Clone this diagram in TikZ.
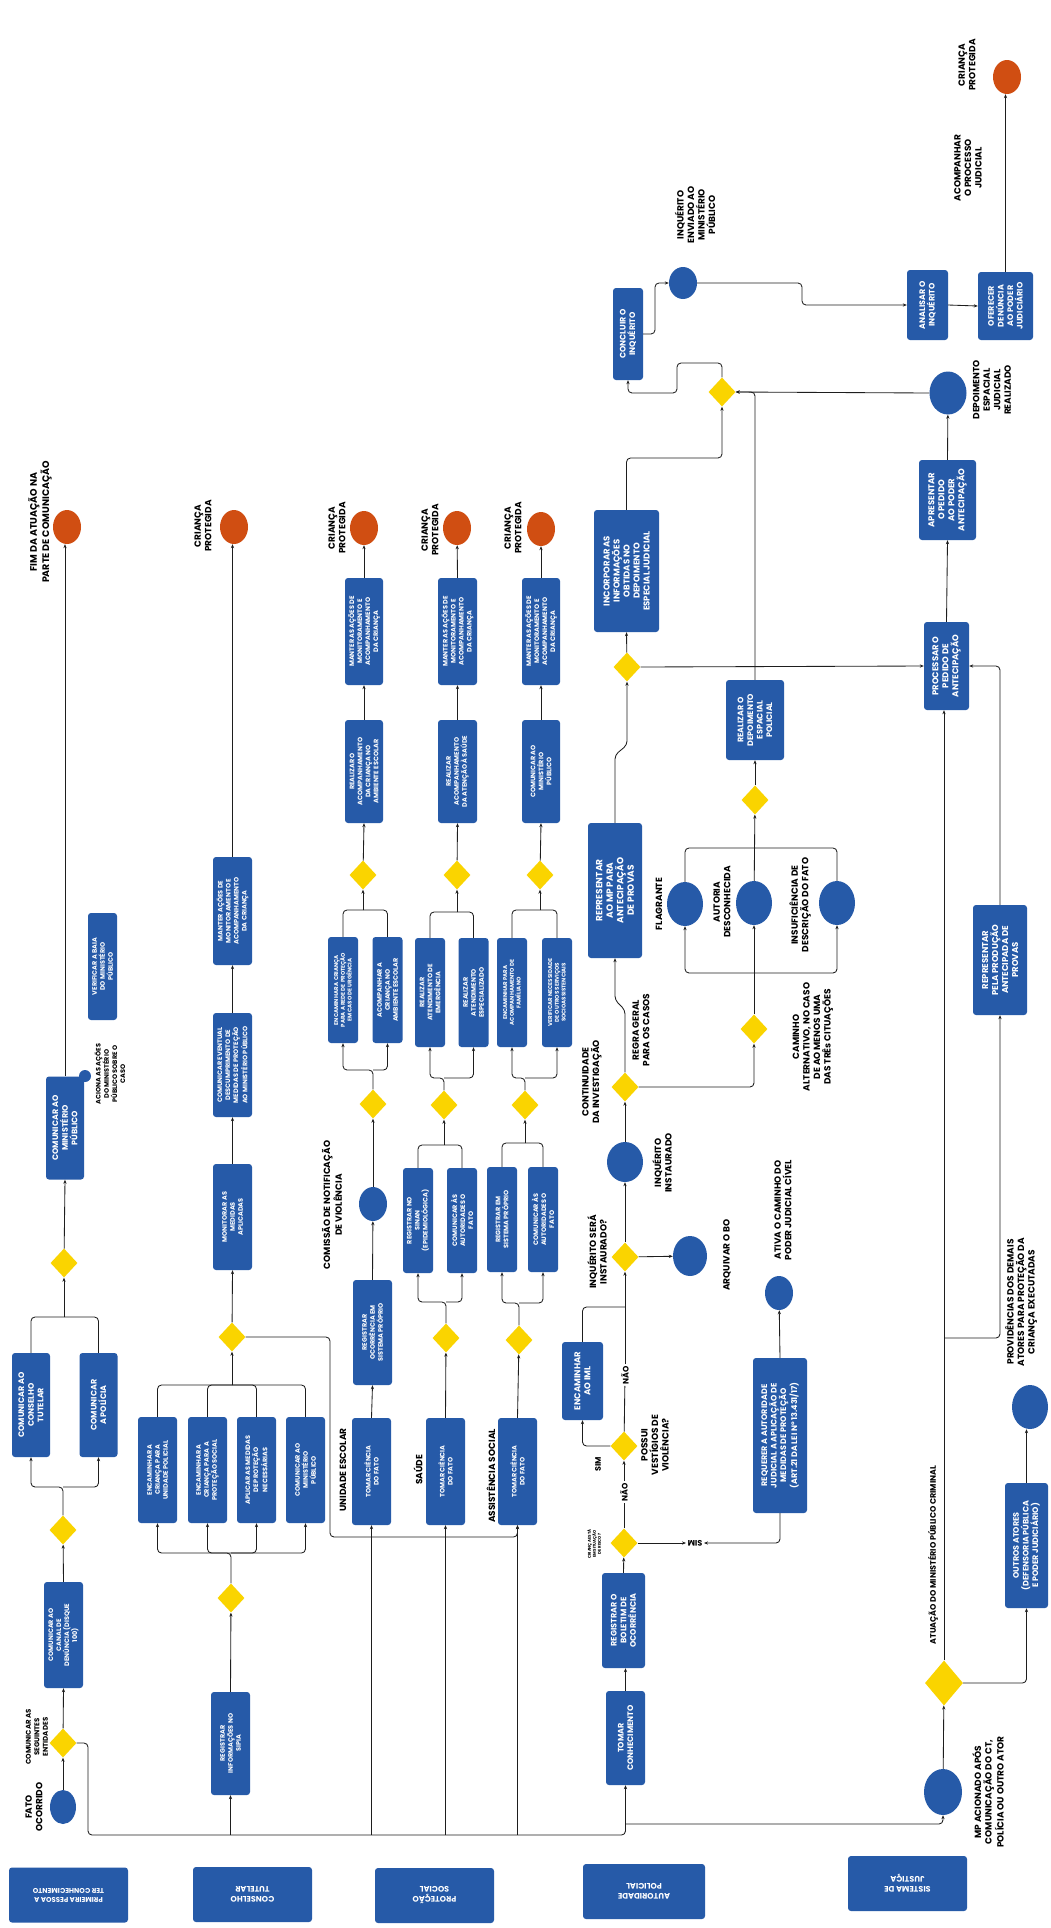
\documentclass[tikz,border=0pt]{standalone}
\usepackage{fontspec}
\setmainfont{Poppins}
\usetikzlibrary{shapes.geometric,arrows.meta}
\definecolor{cblue}{RGB}{38,90,168}
\definecolor{corange}{RGB}{208,78,18}
\definecolor{cyellow}{RGB}{250,212,0}
\definecolor{cline}{RGB}{30,30,30}
\begin{document}
\begin{tikzpicture}[x=1pt,y=-1pt,
  bx/.style={rectangle,rounded corners=3pt,fill=cblue,text=white,align=center,inner sep=1pt,rotate=90,font=\bfseries\fontsize{8}{9.6}\selectfont},
  bxs/.style={bx,font=\bfseries\fontsize{6.5}{8}\selectfont},
  bxt/.style={bx,font=\bfseries\fontsize{5.5}{6.8}\selectfont},
  dm/.style={diamond,fill=cyellow,inner sep=0pt,minimum width=27,minimum height=29},
  ev/.style={ellipse,fill=cblue,inner sep=0pt},
  en/.style={ellipse,fill=corange,inner sep=0pt,minimum width=28,minimum height=34},
  lb/.style={align=center,rotate=90,inner sep=0pt,font=\bfseries\fontsize{9}{10.5}\selectfont},
  lane/.style={rectangle,rounded corners=3pt,fill=cblue,text=white,align=center,rotate=180,minimum width=119,minimum height=55,font=\bfseries\fontsize{8}{10}\selectfont},
  ln/.style={draw=cline,line width=0.85pt,rounded corners=4pt},
  ar/.style={ln,-{Stealth[length=4pt,width=3.2pt]}},
]
\fill[white] (0,0) rectangle (1051,1928);
\useasboundingbox (0,0) rectangle (1051,1928);

% ---------- lane headers ----------
\node[lane,font=\bfseries\fontsize{7}{9}\selectfont] (h1) at (68.5,1895) {PRIMEIRA PESSOA A\\TER CONHECIMENTO};
\node[lane] (h2) at (252.5,1894.5) {CONSELHO\\TUTELAR};
\node[lane] (h3) at (434.5,1895.5) {PROTEÇÃO\\SOCIAL};
\node[lane,minimum width=122] (h4) at (644,1891.5) {AUTORIDADE\\POLICIAL};
\node[lane] (h5) at (907.5,1883.5) {SISTEMA DE\\JUSTIÇA};

% ---------- first person ----------
\node[ev,minimum width=26,minimum height=34] (fato) at (63,1807) {};
\node[lb] at (34,1807) {FATO\\OCORRIDO};
\node[dm] (d1) at (63,1743) {};
\node[lb,font=\bfseries\fontsize{7}{8.5}\selectfont] at (37,1737) {COMUNICAR AS\\SEGUINTES\\ENTIDADES};
\node[bxs,minimum width=106,minimum height=39] (canal) at (63.5,1635) {COMUNICAR AO\\CANAL DE\\DENÚNCIA (DISQUE\\100)};
\node[dm] (d2) at (63,1530) {};
\node[bx,minimum width=104,minimum height=38] (ct) at (31,1405) {COMUNICAR AO\\CONSELHO\\TUTELAR};
\node[bx,minimum width=104,minimum height=38] (pol) at (98.5,1405) {COMUNICAR\\A POLÍCIA};
\node[dm] (d3) at (64,1263) {};
\node[bx,minimum width=103,minimum height=38] (mp1) at (65,1128) {COMUNICAR AO\\MINISTÉRIO\\PÚBLICO};
\node[circle,fill=cblue,minimum size=12,inner sep=0pt] (dot) at (85,1076) {};
\node[lb,font=\bfseries\fontsize{6.5}{8.2}\selectfont] at (110,1074) {ACIONA AS AÇÕES\\DO MINISTÉRIO\\PÚBLICO SOBRE O\\CASO};
\node[bxs,minimum width=107,minimum height=29] (verif) at (102.5,966.5) {VERIFICAR A BAIA\\DO MINISTÉRIO\\PÚBLICO};
\node[en] (end1) at (67,527) {};
\node[lb,font=\bfseries\fontsize{9.5}{11}\selectfont] at (40,522) {FIM DA ATUAÇÃO NA\\PARTE DE COMUNICAÇÃO};

% ---------- conselho tutelar ----------
\node[bxs,minimum width=103,minimum height=39] (sipia) at (230.5,1743.5) {REGISTRAR\\INFORMAÇÕES NO\\SIPIA};
\node[dm] (d4) at (231,1598) {};
\node[bxs,minimum width=106,minimum height=39] (c1) at (157.5,1470) {ENCAMINHAR A\\CRIANÇA PARA\\UNIDADE POLICIAL};
\node[bxs,minimum width=106,minimum height=39] (c2) at (207.5,1470) {ENCAMINHAR A\\CRIANÇA PARA A\\PROTEÇÃO SOCIAL};
\node[bxs,minimum width=106,minimum height=39] (c3) at (256.5,1470) {APLICAR AS MEDIDAS\\DE PROTEÇÃO\\NECESSÁRIAS};
\node[bxs,minimum width=106,minimum height=39] (c4) at (305.5,1470) {COMUNICAR AO\\MINISTÉRIO\\PÚBLICO};
\node[dm] (d5) at (232,1337) {};
\node[bxs,minimum width=106,minimum height=39] (mon) at (232.5,1217) {MONITORAR AS\\MEDIDAS\\APLICADAS};
\node[bxs,minimum width=104,minimum height=39] (desc) at (232.5,1065) {COMUNICAR EVENTUAL\\DESCUMPRIMENTO DE\\MEDIDAS DE PROTEÇÃO\\AO MINISTÉRIO PÚBLICO};
\node[bxs,minimum width=108,minimum height=39] (man2) at (232.5,911) {MANTER AÇÕES DE\\MONITORAMENTO E\\ACOMPANHAMENTO\\DA CRIANÇA};
\node[en] (end2) at (234,527) {};
\node[lb] at (203,526) {CRIANÇA\\PROTEGIDA};

% ---------- proteção social ----------
\node[lb] at (343,1470) {UNIDADE ESCOLAR};
\node[lb] at (418,1470) {SAÚDE};
\node[lb] at (491,1476) {ASSISTÊNCIA SOCIAL};
\node[bxs,minimum width=107,minimum height=39] (tc1) at (371.5,1471.5) {TOMAR CIÊNCIA\\DO FATO};
\node[bxs,minimum width=107,minimum height=39] (tc2) at (445.5,1471.5) {TOMAR CIÊNCIA\\DO FATO};
\node[bxs,minimum width=107,minimum height=39] (tc3) at (517.5,1471.5) {TOMAR CIÊNCIA\\DO FATO};
% unidade escolar
\node[bxs,minimum width=105,minimum height=39] (reg) at (372.5,1332.5) {REGISTRAR\\OCORRÊNCIA EM\\SISTEMA PRÓPRIO};
\node[ev,minimum width=28,minimum height=34] (com) at (373,1204) {};
\node[lb] at (332,1205) {COMISSÃO DE NOTIFICAÇÃO\\DE VIOLÊNCIA};
\node[dm] (d6) at (373,1104) {};
\node[bxt,minimum width=106,minimum height=30] (e1) at (343,990) {ENCAMINHAR A CRIANÇA\\PARA A REDE DE PROTEÇÃO\\EM CASO DE URGÊNCIA};
\node[bxs,minimum width=106,minimum height=30] (e2) at (387.5,990) {ACOMPANHAR A\\CRIANÇA NO\\AMBIENTE ESCOLAR};
\node[dm] (d7) at (363,875) {};
\node[bxs,minimum width=103,minimum height=38] (r1) at (364,771.5) {REALIZAR O\\ACOMPANHAMENTO\\DA CRIANÇA NO\\AMBIENTE ESCOLAR};
\node[bxs,minimum width=107,minimum height=38] (m1) at (364,631.5) {MANTER AS AÇÕES DE\\MONITORAMENTO E\\ACOMPANHAMENTO\\DA CRIANÇA};
\node[en] (end3) at (364,528) {};
\node[lb] at (337,528) {CRIANÇA\\PROTEGIDA};
% saúde
\node[dm] (d8) at (446,1338) {};
\node[bxs,minimum width=105,minimum height=30] (s1) at (418,1220.5) {REGISTRAR NO\\SINAN\\(EPIDEMIOLÓGICA)};
\node[bxs,minimum width=105,minimum height=30] (s2) at (462,1220.5) {COMUNICAR ÀS\\AUTORIDADES O\\FATO};
\node[dm] (d9) at (444,1105) {};
\node[bxs,minimum width=109,minimum height=30] (s3) at (430,992.5) {REALIZAR\\ATENDIMENTO DE\\EMERGÊNCIA};
\node[bxs,minimum width=109,minimum height=30] (s4) at (473.5,992.5) {REALIZAR\\ATENDIMENTO\\ESPECIALIZADO};
\node[dm] (d10) at (457,875) {};
\node[bxs,minimum width=103,minimum height=39] (s5) at (457.5,771.5) {REALIZAR\\ACOMPANHAMENTO\\DA ATENÇÃO À SAÚDE};
\node[bxs,minimum width=107,minimum height=39] (s6) at (457.5,631.5) {MANTER AS AÇÕES DE\\MONITORAMENTO E\\ACOMPANHAMENTO\\DA CRIANÇA};
\node[en] (end4) at (457,528) {};
\node[lb] at (430,530) {CRIANÇA\\PROTEGIDA};
% assistência social
\node[dm] (d11) at (519,1340) {};
\node[bxs,minimum width=105,minimum height=30] (a1) at (502,1219.5) {REGISTRAR EM\\SISTEMA PRÓPRIO};
\node[bxs,minimum width=105,minimum height=30] (a2) at (543,1219.5) {COMUNICAR ÀS\\AUTORIDADES O\\FATO};
\node[dm] (d12) at (525,1105) {};
\node[bxt,minimum width=109,minimum height=30] (a3) at (512,992.5) {ENCAMINHAR PARA\\ACOMPANHAMENTO DE\\FAMÍLIA NO};
\node[bxt,minimum width=109,minimum height=30] (a4) at (557,992.5) {VERIFICAR NECESSIDADE\\DE OUTROS SERVIÇOS\\SOCIOASSISTENCIAIS};
\node[dm] (d13) at (540,875) {};
\node[bxs,minimum width=103,minimum height=38] (a5) at (541,771.5) {COMUNICAR AO\\MINISTÉRIO\\PÚBLICO};
\node[bxs,minimum width=107,minimum height=38] (a6) at (541,631.5) {MANTER AS AÇÕES DE\\MONITORAMENTO E\\ACOMPANHAMENTO\\DA CRIANÇA};
\node[en] (end5) at (541,529) {};
\node[lb] at (513,528) {CRIANÇA\\PROTEGIDA};

% ---------- autoridade policial ----------
\node[bx,minimum width=94,minimum height=39] (tcon) at (625.5,1738) {TOMAR\\CONHECIMENTO};
\node[bx,minimum width=95,minimum height=43] (bo) at (623.5,1620.5) {REGISTRAR O\\BOLETIM DE\\OCORRÊNCIA};
\node[dm] (d14) at (624,1543) {};
\node[lb,font=\bfseries\fontsize{4}{5}\selectfont] at (594,1544) {CRIANÇA ESTÁ\\EM SITUAÇÃO\\DE RISCO?};
\node[lb,rotate=90,font=\bfseries\fontsize{8}{9}\selectfont,inner sep=1.5pt] (sim1) at (695,1543) {SIM};
\node[lb,font=\bfseries\fontsize{8}{9}\selectfont,inner sep=1.5pt] (nao1) at (624,1492) {NÃO};
\node[dm] (d15) at (624,1446) {};
\node[lb] at (655,1445) {POSSUI\\VESTÍGIOS DE\\VIOLÊNCIA?};
\node[lb,font=\bfseries\fontsize{8}{9}\selectfont] at (598,1464) {SIM};
\node[bx,font=\bfseries\fontsize{8.5}{10}\selectfont,minimum width=78,minimum height=41] (iml) at (582.5,1381) {ENCAMINHAR\\AO IML};
\node[lb,font=\bfseries\fontsize{8}{9}\selectfont,inner sep=1.5pt] (nao2) at (625,1375) {NÃO};
\node[dm] (d16) at (625,1257) {};
\node[lb] at (597,1252) {INQUÉRITO SERÁ\\INSTAURADO?};
\node[ev,minimum width=34,minimum height=40] (arq) at (690,1256) {};
\node[lb] at (727,1255) {ARQUIVAR O BO};
\node[ev,minimum width=36,minimum height=40] (inst) at (625,1162) {};
\node[lb] at (662,1163) {INQUÉRITO\\INSTAURADO};
\node[lb] at (592,1082) {CONTINUIDADE\\DA INVESTIGAÇÃO};
\node[dm] (d17) at (625,1087) {};
\node[lb] at (641,1030) {REGRA GERAL\\PARA OS CASOS};
\node[bx,font=\bfseries\fontsize{9}{10.5}\selectfont,minimum width=135,minimum height=54] (rep) at (615,890.5) {REPRESENTAR\\AO MP PARA\\ANTECIPAÇÃO\\DE PROVAS};
\node[dm] (d18) at (754,1029) {};
\node[lb] at (813,1037) {CAMINHO\\ALTERNATIVO, NO CASO\\DE AO MENOS UMA\\DAS TRÊs CITUAÇÕES};
\node[ev,minimum width=36,minimum height=44] (fla) at (685,904) {};
\node[lb] at (659,904) {FLAGRANTE};
\node[ev,minimum width=36,minimum height=44] (aut) at (754,903) {};
\node[lb] at (722,902) {AUTORIA\\DESCONHECIDA};
\node[ev,minimum width=36,minimum height=44] (ins) at (837,903) {};
\node[lb] at (800,905) {INSUFICIÊNCIA DE\\DESCRIÇÃO DO FATO};
\node[dm] (d19) at (755,800) {};
\node[bx,minimum width=80,minimum height=58] (dep) at (755,720) {REALIZAR O\\DEPOIMENTO\\ESPACIAL\\POLICIAL};
\node[dm] (d20) at (627,667) {};
\node[bx,font=\bfseries\fontsize{8.5}{10}\selectfont,minimum width=122,minimum height=65] (inc) at (626.5,571) {INCORPORAR AS\\INFORMAÇÕES\\OBTIDAS NO\\DEPOIMENTO\\ESPECIAL JUDICIAL};
\node[dm] (d21) at (722,392) {};
\node[bx,minimum width=92,minimum height=30] (conc) at (628,334) {CONCLUIR O\\INQUÉRITO};
\node[ev,minimum width=28,minimum height=32] (env) at (683,283) {};
\node[lb] at (695,215) {INQUÉRITO\\ENVIADO AO\\MINISTÉRIO\\PÚBLICO};
\node[bx,minimum width=70,minimum height=41] (ana) at (927.5,305) {ANALISAR O\\INQUÉRITO};
\node[bx,minimum width=68,minimum height=55] (ofe) at (1005.5,306) {OFERECER\\DENÚNCIA\\AO PODER\\JUDICIÁRIO};
\node[en] (end6) at (1007,77) {};
\node[lb] at (968,168) {ACOMPANHAR\\O PROCESSO\\JUDICIAL};
\node[lb] at (967,65) {CRIANÇA\\PROTEGIDA};
\node[bx,minimum width=155,minimum height=54] (req) at (780,1435.5) {REQUERER A AUTORIDADE\\JUDICIAL A APLICAÇÃO DE\\MEDIDAS DE PROTEÇÃO\\(ART.21 DA LEI Nº 13.431/17)};
\node[ev,minimum width=28,minimum height=34] (ativ) at (779,1293) {};
\node[lb] at (783,1210) {ATIVA O CAMINHO DO\\PODER JUDICIAL CÍVEL};

% ---------- sistema de justiça ----------
\node[ev,minimum width=38,minimum height=46] (mpa) at (943,1792) {};
\node[lb] at (988,1792) {MP ACIONADO APÓS\\COMUNICAÇÃO DO CT,\\POLÍCIA OU OUTRO ATOR};
\node[dm,minimum width=38,minimum height=45] (d22) at (944,1683) {};
\node[lb,font=\bfseries\fontsize{8}{9}\selectfont] at (933,1555) {ATUAÇÃO DO MINISTÉRIO PÚBLICO CRIMINAL};
\node[bx,minimum width=125,minimum height=43] (out) at (1026.5,1545.5) {OUTROS ATORES\\(DEFENSORIA PÚBLICA\\E PODER JUDICIÁRIO)};
\node[ev,minimum width=36,minimum height=44] (prov) at (1030,1407) {};
\node[lb] at (1021,1302) {PROVIDÊNCIAS DOS DEMAIS\\ATORES PARA PROTEÇÃO DA\\CRIANÇA EXECUTADAS};
\node[bx,font=\bfseries\fontsize{8.5}{10}\selectfont,minimum width=110,minimum height=54] (rpp) at (1000,960) {REPRESENTAR\\PELA PRODUÇÃO\\ANTECIPADA DE\\PROVAS};
\node[bx,font=\bfseries\fontsize{8.5}{10}\selectfont,minimum width=88,minimum height=45] (proc) at (946.5,666) {PROCESSAR O\\PEDIDO DE\\ANTECIPAÇÃO};
\node[bx,font=\bfseries\fontsize{8.5}{10}\selectfont,minimum width=80,minimum height=57] (apr) at (947.5,500) {APRESENTAR\\O PEDIDO\\AO PODER\\ANTECIPAÇÃO};
\node[ev,minimum width=37,minimum height=43] (djr) at (948,393) {};
\node[lb] at (992,390) {DEPOIMENTO\\ESPACIAL\\JUDICIAL\\REALIZADO};

% ================= connectors =================
% first person
\draw[ar] (fato) -- (d1);
\draw[ar] (d1) -- (canal.west);
\draw[ar] (canal.east) -- (d2);
\coordinate (j2) at (63,1487);
\draw[ar] (d2.north) -- (j2) -| (ct.west);
\draw[ar] (j2) -| (pol.west);
\coordinate (j3) at (64,1317);
\draw[ln] (ct.east) |- (j3);
\draw[ln] (pol.east) |- (j3);
\draw[ar] (j3) -- (d3);
\draw[ar] (d3) -- (mp1.west);
\draw[ar] (mp1.east) -- (mp1.east |- end1.south);

% common bus
\coordinate (b0) at (88,1835);
\coordinate (busy) at (0,1835);
\coordinate (busz) at (0,1824);
\draw[ar] (d1.east) -| (b0) -| (tcon.west);
\draw[ar] (sipia.west |- busy) -- (sipia.west);
\draw[ar] (tc1.west |- busy) -- (tc1.west);
\draw[ar] (tc2.west |- busy) -- (tc2.west);
\draw[ar] (tc3.west |- busy) -- (tc3.west);
\draw[ar] (tcon.west |- busz) -| (mpa.south);

% conselho tutelar
\draw[ar] (sipia.east) -- (d4);
\coordinate (j4) at (231,1553);
\draw[ar] (d4.north) -- (j4) -| (c1.west);
\draw[ar] (j4) -| (c2.west);
\draw[ar] (j4) -| (c3.west);
\draw[ar] (j4) -| (c4.west);
\coordinate (j5) at (232,1385);
\draw[ln] (c1.east) |- (j5);
\draw[ln] (c2.east) |- (j5);
\draw[ln] (c3.east) |- (j5);
\draw[ln] (c4.east) |- (j5);
\draw[ar] (j5) -- (d5);
\draw[ar] (d5) -- (mon.west);
\draw[ar] (mon.east) -- (desc.west);
\draw[ar] (desc.east) -- (man2.west);
\draw[ar] (man2.east) -- (man2.east |- end2.south);
\coordinate (k1) at (330,1537);
\draw[ar] (d5.east) -| (k1) -| (tc3.west);

% unidade escolar
\draw[ar] (tc1.east) -- (reg.west);
\draw[ar] (reg.east) -- (com);
\draw[ar] (com) -- (d6);
\coordinate (j6) at (373,1070);
\draw[ar] (d6.north) -- (j6) -| (e1.west);
\draw[ar] (j6) -| (e2.west);
\coordinate (j7) at (363,910);
\draw[ln] (e1.east) |- (j7);
\draw[ln] (e2.east) |- (j7);
\draw[ar] (j7) -- (d7);
\draw[ar] (d7) -- (r1.west);
\draw[ar] (r1.east) -- (m1.west);
\draw[ar] (m1.east) -- (end3);

% saúde
\draw[ar] (tc2.east) -- (d8);
\coordinate (j8) at (446,1302);
\draw[ar] (d8.north) -- (j8) -| (s1.west);
\draw[ar] (j8) -| (s2.west);
\coordinate (j9) at (444,1145);
\draw[ln] (s1.east) |- (j9);
\draw[ln] (s2.east) |- (j9);
\draw[ar] (j9) -- (d9);
\coordinate (j10) at (444,1078);
\draw[ar] (d9.north) -- (j10) -| (s3.west);
\draw[ar] (j10) -| (s4.west);
\coordinate (j11) at (457,912);
\draw[ln] (s3.east) |- (j11);
\draw[ln] (s4.east) |- (j11);
\draw[ar] (j11) -- (d10);
\draw[ar] (d10) -- (s5.west);
\draw[ar] (s5.east) -- (s6.west);
\draw[ar] (s6.east) -- (end4);

% assistência social
\draw[ar] (tc3.east) -- (d11);
\coordinate (j12) at (519,1303);
\draw[ar] (d11.north) -- (j12) -| (a1.west);
\draw[ar] (j12) -| (a2.west);
\coordinate (j13) at (525,1143);
\draw[ln] (a1.east) |- (j13);
\draw[ln] (a2.east) |- (j13);
\draw[ar] (j13) -- (d12);
\coordinate (j14) at (525,1078);
\draw[ar] (d12.north) -- (j14) -| (a3.west);
\draw[ar] (j14) -| (a4.west);
\coordinate (j15) at (540,910);
\draw[ln] (a3.east) |- (j15);
\draw[ln] (a4.east) |- (j15);
\draw[ar] (j15) -- (d13);
\draw[ar] (d13) -- (a5.west);
\draw[ar] (a5.east) -- (a6.west);
\draw[ar] (a6.east) -- (end5);

% autoridade policial
\draw[ar] (tcon.east) -- (tcon.east |- bo.west);
\draw[ar] (bo.east) -- (d14);
\draw[ln] (d14) -- (nao1);
\draw[ar] (nao1) -- (d15);
\draw[ar] (d14) -- (sim1);
\draw[ar] (req.west) |- (sim1);
\draw[ar] (d15.west) -| (iml.west);
\draw[ln] (d15) -- (nao2);
\draw[ar] (nao2) -- (d16);
\coordinate (j16) at (625,1307);
\draw[ln] (iml.east) |- (j16);
\draw[ar] (d16) -- (arq);
\draw[ar] (d16) -- (inst);
\draw[ar] (inst) -- (d17);
\coordinate (p1) at (625,1010);
\coordinate (p2) at (615,1000);
\draw[ar] (d17.north) -- (p1) -- (p2) -- (rep.west);
\draw[ar] (d17.east) -| (d18.south);
\coordinate (j18) at (754,973);
\draw[ar] (d18) -- (aut);
\draw[ar] (j18) -| (fla.south);
\draw[ar] (j18) -| (ins.south);
\coordinate (j19) at (755,848);
\draw[ln] (fla.north) |- (j19);
\draw[ln] (ins.north) |- (j19);
\draw[ar] (aut) -- (d19);
\draw[ar] (d19) -- (dep.west);
\draw[ar] (dep.east) |- (d21.east);
\draw[ar] (djr.west) -- (d21.east);
\coordinate (p3) at (615,755);
\coordinate (p4) at (627,745);
\draw[ar] (rep.east) -- (p3) -- (p4) -- (d20.south);
\draw[ar] (d20) -- (inc.west);
\draw[ar] (d20.east) -- (proc.north);
\coordinate (j21) at (722,458);
\draw[ar] (inc.east) |- (j21) -- (d21.south);
\coordinate (q1) at (722,363);
\coordinate (q2) at (677,363);
\coordinate (q3) at (677,393);
\coordinate (q4) at (628,393);
\draw[ar] (d21.north) -- (q1) -- (q2) -- (q3) -- (q4) -- (conc.west);
\coordinate (q5) at (655,334);
\draw[ar] (conc.south) -- (q5) |- (env.west);
\coordinate (q6) at (802,305);
\draw[ar] (env.east) -| (q6) -- (ana.north);
\draw[ar] (ana.south) -- (ofe.north);
\draw[ar] (ofe.east) -- (ofe.east |- end6.south);
\draw[ar] (req.east) -- (ativ);

% sistema de justiça
\draw[ar] (mpa) -- (d22);
\draw[ar] (d22.north) -- (d22.north |- proc.west);
\coordinate (j22) at (944,1338);
\draw[ar] (j22) -| (rpp.west);
\draw[ar] (d22.east) -| (out.west);
\draw[ar] (out.east) -- (out.east |- prov.south);
\draw[ar] (rpp.east) |- (proc.south);
\draw[ar] (proc.east) -- (apr.west);
\draw[ar] (apr.east) -- (djr);
\end{tikzpicture}
\end{document}
